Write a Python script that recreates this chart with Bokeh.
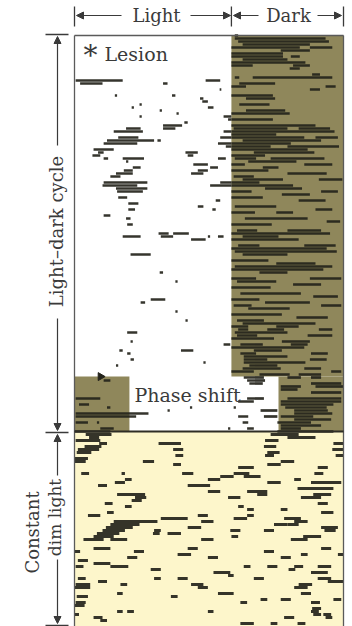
import math
from bokeh.plotting import figure
from bokeh.models import Range1d, Label, Arrow, NormalHead, ColumnDataSource
from bokeh.embed import file_html
from bokeh.resources import INLINE

# ---------------- schedule (hours / days) ----------------
DARK_ON, DAY_LEN = 14.0, 24.0
SHIFT_DAY = 113.7
SHIFT_DARK_ON, SHIFT_DARK_OFF = 18.2, 4.9
LD_END_DAY = 132
LAST_DAY = 197

# ---------------- activity bouts: (day, start h, end h) ----------------
ld_light_bouts = [
    (15, 0.1, 4.3), (16, 0.5, 2.5), (16, 7.9, 8.3), (15, 11.7, 13.0), (18, 12.95, 13.1),
    (20, 3.6, 3.8), (20, 8.7, 9.0), (21, 11.2, 11.5), (22, 11.4, 11.9), (23, 5.8, 6.0),
    (24, 5.1, 5.3), (24, 11.9, 12.4), (25, 7.6, 7.8), (26, 9.1, 9.3), (27, 5.8, 6.0),
    (27, 13.3, 14.0), (28, 13.7, 14.0), (29, 9.8, 10.1), (30, 7.9, 9.6), (31, 7.9, 9.0),
    (31, 4.6, 5.9), (32, 3.5, 6.1), (32, 13.3, 14.0), (34, 3.9, 5.7), (34, 13.0, 14.0),
    (35, 2.9, 7.1), (35, 7.4, 7.7), (36, 2.6, 5.6), (36, 12.8, 14.0), (37, 13.5, 14.0),
    (38, 1.7, 3.5), (39, 2.1, 2.6), (39, 9.9, 11.0), (40, 1.6, 2.3), (40, 10.1, 10.6),
    (41, 2.6, 3.0), (41, 4.3, 6.2), (41, 12.8, 13.5), (42, 4.6, 4.8), (43, 10.6, 11.9),
    (44, 5.2, 5.9), (44, 12.1, 12.8), (45, 4.4, 5.2), (45, 11.0, 11.9), (46, 3.7, 5.2),
    (46, 10.4, 11.5), (47, 3.2, 4.1), (49, 2.6, 6.5), (49, 13.0, 14.0), (50, 2.5, 5.6),
    (50, 12.1, 14.0), (51, 3.7, 6.5), (52, 3.8, 6.1), (54, 3.9, 4.7), (55, 12.6, 13.0),
    (56, 4.8, 5.7), (57, 11.0, 11.5), (58, 4.8, 5.4), (58, 12.3, 12.6), (60, 2.6, 3.2),
    (61, 4.6, 5.0), (63, 4.7, 5.2), (66, 7.5, 8.4), (66, 8.8, 10.2), (67, 4.3, 5.9),
    (67, 7.7, 8.8), (67, 11.9, 12.1), (67, 12.8, 13.3), (68, 10.4, 11.7), (73, 5.0, 6.8),
    (79, 7.6, 7.9), (82, 9.0, 9.2), (88, 6.8, 8.1), (89, 5.9, 6.3), (92, 9.0, 9.2),
    (95, 9.9, 10.1), (99, 4.7, 5.6), (102, 5.0, 5.2), (103, 13.3, 13.9), (105, 4.0, 4.3),
    (105, 9.5, 10.6), (106, 4.7, 5.0), (108, 5.0, 5.3), (109, 11.5, 11.7), (110, 3.7, 3.9),
]

ld_dark_bouts = [
    (0, 14.3, 14.6), (1, 14.3, 22.4), (2, 14.6, 22.7), (3, 15.0, 21.0), (4, 14.0, 20.1),
    (4, 21.0, 23.0), (5, 18.4, 21.0), (6, 14.0, 18.6), (7, 14.0, 18.6), (7, 19.3, 20.1),
    (8, 15.0, 19.0), (9, 14.0, 20.6), (10, 14.0, 15.9), (10, 19.5, 21.0), (11, 19.2, 20.1),
    (13, 21.2, 21.9), (14, 14.3, 14.7), (14, 15.9, 23.0), (16, 14.7, 17.9), (17, 14.0, 15.3),
    (17, 22.4, 23.3), (18, 21.0, 21.9), (20, 14.0, 17.7), (21, 15.3, 17.9), (23, 14.7, 17.4),
    (25, 15.3, 18.8), (26, 14.0, 19.2), (28, 14.0, 17.7), (30, 14.0, 21.5), (31, 14.2, 19.0),
    (31, 20.0, 22.8), (32, 14.0, 23.2), (33, 14.0, 18.0), (34, 14.0, 20.5), (34, 21.5, 23.5),
    (35, 15.0, 22.0), (36, 14.0, 19.3), (37, 14.0, 17.5), (37, 19.0, 23.6), (38, 14.0, 20.8),
    (39, 16.0, 21.4), (40, 14.0, 17.0), (41, 14.3, 16.2), (41, 17.5, 22.3), (42, 15.5, 19.8),
    (43, 14.0, 15.2), (43, 20.5, 23.0), (44, 16.8, 18.2), (45, 14.0, 17.3), (46, 19.0, 22.5),
    (47, 14.2, 16.0), (48, 15.0, 18.6), (48, 21.8, 23.9), (49, 14.0, 16.5), (50, 14.0, 19.5),
    (51, 17.0, 20.3), (52, 14.0, 15.8), (52, 22.0, 23.5), (53, 18.5, 21.0), (54, 14.0, 16.8),
    (55, 20.0, 22.4), (57, 14.3, 18.0), (58, 21.5, 23.0), (59, 14.0, 16.1), (59, 18.0, 19.5),
    (61, 15.2, 20.8), (62, 22.5, 23.7), (63, 14.0, 17.6), (65, 14.5, 16.3), (65, 19.0, 22.0),
    (66, 14.0, 22.8), (67, 15.0, 18.2), (68, 14.0, 20.0), (70, 14.6, 16.5), (70, 20.5, 23.3),
    (71, 14.0, 22.5), (72, 14.3, 23.4), (73, 15.0, 19.0), (75, 14.0, 17.3), (76, 18.0, 21.5),
    (77, 14.3, 23.0), (78, 14.0, 22.2), (79, 16.5, 19.0), (81, 14.0, 16.2), (81, 21.0, 23.8),
    (82, 14.5, 18.0), (83, 19.5, 22.0), (84, 14.0, 17.5), (86, 14.8, 20.2), (87, 21.3, 23.5),
    (88, 14.0, 16.5), (89, 17.0, 21.0), (90, 14.2, 15.8), (90, 22.0, 23.8), (91, 15.5, 19.2),
    (93, 14.0, 18.5), (94, 19.8, 22.6), (95, 14.5, 16.9), (96, 15.0, 21.5), (97, 14.0, 15.5),
    (97, 18.0, 20.0), (98, 14.6, 15.5), (98, 17.2, 18.7), (98, 21.8, 23.0), (99, 14.3, 19.0),
    (100, 14.5, 16.3), (100, 20.8, 23.0), (101, 14.0, 17.8), (102, 18.5, 21.0), (103, 14.8, 16.8),
    (103, 19.3, 20.8), (104, 14.0, 20.5), (105, 16.0, 18.5), (106, 14.8, 16.2), (106, 21.1, 22.6),
    (107, 15.1, 19.0), (108, 15.1, 17.2), (108, 21.0, 22.5), (109, 15.1, 20.6), (110, 15.6, 18.1),
    (111, 15.0, 18.4), (111, 20.5, 22.0), (112, 14.0, 16.0), (112, 22.9, 23.8), (113, 16.5, 19.2),
    (113, 20.0, 22.0),
]

shift_bouts = [
    (114, 15.1, 16.9), (115, 15.4, 17.0), (116, 15.6, 16.8), (121, 15.4, 16.9), (122, 14.6, 16.0),
    (125, 16.6, 18.1), (127, 14.6, 15.5), (127, 16.9, 18.1), (129, 15.0, 15.5), (131, 15.4, 16.0),
    (125, 8.3, 8.5), (124, 10.3, 10.5), (131, 13.7, 13.9), (124, 14.2, 14.4),
    (115, 2.6, 3.2), (121, 0.1, 2.3), (123, 0.4, 1.3), (124, 2.9, 3.2), (126, 0.1, 6.6),
    (127, 0.1, 5.5), (129, 0.1, 1.2), (129, 2.0, 2.2), (131, 2.3, 3.5), (132, 0.0, 3.2),
    (114, 19.0, 20.2), (114, 21.1, 22.0), (116, 21.1, 23.8), (117, 21.5, 24.0), (117, 18.4, 20.2),
    (118, 18.4, 19.9), (119, 21.1, 23.8), (121, 19.0, 23.8), (122, 18.4, 23.8), (123, 18.4, 23.1),
    (124, 18.8, 22.5), (125, 19.6, 22.6), (126, 19.6, 23.0), (127, 18.4, 21.3), (128, 19.6, 22.9),
    (129, 18.1, 21.1), (130, 18.4, 22.0), (131, 18.4, 20.2), (132, 18.1, 23.1),
]

dim_bouts = [
    (133, 1.0, 3.3), (133, 17.5, 20.0), (134, 19.0, 21.5),
    (134, 1.3, 2.2), (135, 0.1, 2.3), (136, 2.2, 2.9), (137, 0.9, 2.4), (138, 0.3, 2.2),
    (139, 0.2, 1.5), (141, 0.0, 1.2), (142, 0.0, 1.0), (146, 0.6, 1.3), (142, 6.1, 7.1),
    (136, 7.5, 9.5), (138, 8.8, 9.7), (140, 9.0, 9.7), (143, 8.8, 9.5), (135, 17.0, 18.2),
    (137, 16.9, 18.0), (139, 17.2, 18.3), (140, 17.0, 17.8), (142, 18.4, 19.6), (136, 23.1, 24.0),
    (138, 23.0, 24.0), (140, 23.3, 24.0), (143, 17.2, 18.4), (146, 9.6, 10.6), (144, 14.6, 16.0),
    (146, 14.2, 15.6), (144, 21.7, 22.6), (146, 21.4, 22.2), (146, 4.2, 4.5), (148, 4.5, 5.1),
    (149, 3.6, 4.5), (150, 2.1, 2.9), (153, 3.8, 6.3), (154, 5.4, 6.4), (155, 5.1, 6.0),
    (156, 2.7, 3.4), (157, 4.5, 5.1), (150, 10.1, 12.1), (148, 11.9, 13.0), (152, 11.9, 13.0),
    (147, 13.0, 14.2), (147, 15.1, 16.6), (149, 17.2, 18.4), (148, 19.6, 20.2), (151, 19.9, 23.1),
    (149, 21.1, 23.8), (152, 15.4, 17.2), (154, 13.7, 14.8), (153, 16.3, 17.2), (154, 20.2, 22.0),
    (153, 21.3, 22.9), (160, 1.2, 2.3), (159, 2.9, 3.5), (157, 14.6, 15.1), (158, 15.4, 16.0),
    (160, 15.4, 16.0), (158, 18.4, 19.0), (156, 21.7, 22.6), (159, 22.0, 23.1), (161, 7.7, 10.1),
    (162, 11.3, 12.4), (160, 11.0, 11.9), (161, 14.2, 15.4), (161, 18.7, 20.2), (163, 19.0, 20.0),
    (162, 19.6, 20.8), (162, 3.5, 7.4), (163, 3.2, 5.8), (164, 2.8, 5.2), (165, 2.5, 4.5),
    (166, 2.0, 4.0), (167, 1.7, 3.5), (168, 0.8, 2.6), (165, 7.1, 7.7), (166, 7.0, 7.6),
    (166, 8.3, 9.5), (164, 10.1, 11.3), (165, 13.9, 14.8), (167, 14.0, 14.6), (165, 16.9, 17.8),
    (163, 17.8, 19.0), (168, 19.3, 20.8), (167, 20.4, 22.0), (164, 22.0, 23.5), (165, 22.3, 23.3),
    (172, 0.0, 0.5), (171, 1.7, 3.2), (168, 3.2, 4.7), (172, 5.3, 6.2), (171, 10.1, 11.0),
    (168, 11.3, 12.4), (174, 4.7, 5.6), (173, 9.2, 10.4), (174, 11.9, 12.8), (172, 16.9, 17.8),
    (174, 18.4, 19.3), (173, 20.2, 20.8), (171, 22.0, 22.9), (173, 23.5, 24.0), (175, 0.3, 1.2),
    (177, 0.1, 0.8), (176, 1.7, 3.2), (177, 3.2, 4.8), (178, 6.8, 7.7), (181, 7.1, 7.7),
    (181, 9.2, 10.1), (179, 12.4, 13.9), (180, 13.7, 14.2), (177, 15.1, 15.7), (181, 16.0, 16.9),
    (177, 17.2, 18.1), (177, 19.6, 20.4), (179, 21.1, 22.6), (177, 21.7, 22.9), (182, 22.6, 24.0),
    (181, 21.7, 22.9), (178, 19.1, 19.7), (181, 0.3, 1.0), (183, 0.1, 1.4), (184, 0.0, 1.4),
    (182, 2.1, 2.9), (183, 4.1, 4.7), (183, 10.4, 11.5), (184, 11.0, 11.9), (186, 12.8, 14.2),
    (184, 19.6, 20.8), (186, 20.2, 21.1), (183, 20.0, 21.2), (187, 8.6, 9.2), (187, 0.2, 1.2),
    (189, 0.1, 1.0), (190, 0.0, 0.9), (192, 11.9, 12.4), (189, 14.8, 15.4), (188, 16.6, 17.2),
    (188, 18.4, 19.3), (189, 21.1, 21.9), (191, 21.2, 22.0), (192, 21.1, 21.8), (193, 21.3, 22.0),
    (195, 2.3, 2.9), (192, 4.7, 5.3), (196, 14.8, 16.0), (196, 17.5, 18.1), (193, 22.2, 22.9),
    (188, 23.1, 23.8), (194, 18.7, 19.6), (196, 19.9, 20.6), (194, 22.4, 23.0), (186, 3.8, 4.3),
    (192, 3.8, 4.3), (194, 1.7, 2.5), (193, 0.0, 0.4),
]

# ---------------- figure ----------------
W, H = 352, 626
FRAME_L, FRAME_R, FRAME_T = 74, 343, 35
PX_H = (FRAME_R - FRAME_L) / DAY_LEN      # px per hour
PX_D = 3.0                                  # px per day


def hx(px):
    return (px - FRAME_L) / PX_H


def dy(py):
    return (py - FRAME_T) / PX_D


p = figure(width=W, height=H, output_backend="svg", toolbar_location=None,
           x_range=Range1d(hx(0), hx(W)), y_range=Range1d(dy(H), dy(0)),
           x_axis_type=None, y_axis_type=None, min_border=0,
           outline_line_color=None, background_fill_color="white",
           border_fill_color="white")
p.grid.visible = False

OLIVE = "#8f875b"
CREAM = "#fdf6cb"
INK = "#24231b"
TXT = "#3a3a3a"
EDGE = "#5a5a5a"

# background lighting blocks
bg = ColumnDataSource(dict(
    left=[DARK_ON, SHIFT_DARK_ON, 0.0, 0.0],
    right=[DAY_LEN, DAY_LEN, SHIFT_DARK_OFF, DAY_LEN],
    top=[0.0, SHIFT_DAY, SHIFT_DAY, LD_END_DAY],
    bottom=[SHIFT_DAY, LD_END_DAY, LD_END_DAY, LAST_DAY],
    color=[OLIVE, OLIVE, OLIVE, CREAM],
))
p.quad(left="left", right="right", top="top", bottom="bottom", fill_color="color",
       line_color=None, source=bg)


def bout_source(bouts):
    return ColumnDataSource(dict(day=[b[0] for b in bouts],
                                 start=[b[1] for b in bouts],
                                 end=[b[2] for b in bouts]))


for bouts, h in ((ld_light_bouts, 0.85), (ld_dark_bouts, 0.85),
                 (shift_bouts, 0.9), (dim_bouts, 1.0)):
    p.hbar(y="day", left="start", right="end", height=h, fill_color=INK,
           fill_alpha=0.92, line_color=None, source=bout_source(bouts))

# frame borders
p.segment(x0=[0, DAY_LEN, 0], y0=[0, 0, 0], x1=[0, DAY_LEN, DAY_LEN],
          y1=[LAST_DAY, LAST_DAY, 0], line_color=EDGE, line_width=1.3)
p.segment(x0=[0], y0=[LD_END_DAY], x1=[DAY_LEN], y1=[LD_END_DAY],
          line_color="#2e2d25", line_width=2)

# phase shift marker
p.scatter(x=[hx(100)], y=[SHIFT_DAY], marker="triangle", angle=-math.pi / 2,
          size=8, fill_color=INK, line_color=INK)

# header brackets
HY = dy(15)
p.segment(x0=[0, DARK_ON, DAY_LEN], y0=[dy(6)] * 3, x1=[0, DARK_ON, DAY_LEN],
          y1=[dy(26)] * 3, line_color=TXT, line_width=1.3)


def arrow(x0, y0, x1, y1):
    p.add_layout(Arrow(end=NormalHead(size=7, fill_color=TXT, line_color=TXT),
                       x_start=x0, y_start=y0, x_end=x1, y_end=y1,
                       line_color=TXT, line_width=1.2))


arrow(hx(121), HY, hx(76), HY)
arrow(hx(190), HY, hx(230), HY)
arrow(hx(258), HY, hx(233), HY)
arrow(hx(317), HY, hx(341), HY)

FONT = "DejaVu Serif"


def label(txt, x, y, size, angle=0.0, align="center"):
    p.add_layout(Label(x=x, y=y, text=txt, text_font=FONT, text_font_size=size,
                       text_color=TXT, text_align=align, text_baseline="middle",
                       angle=angle))


label("Light", hx(156), HY, "18px")
label("Dark", hx(288), HY, "18px")
label("*", hx(83), dy(55), "28px", align="left")
label("Lesion", hx(104), dy(53), "19px", align="left")
label("Phase shift", hx(187), dy(394), "19px")

# left-side brackets
LX = hx(57)
p.segment(x0=[hx(45)] * 3, y0=[dy(34), dy(432), dy(625)], x1=[hx(68)] * 3,
          y1=[dy(34), dy(432), dy(625)], line_color=TXT, line_width=1.3)
arrow(LX, dy(145), LX, dy(36))
arrow(LX, dy(318), LX, dy(430))
arrow(LX, dy(475), LX, dy(434))
arrow(LX, dy(559), LX, dy(623))
label("Light\u2013dark cycle", hx(56), dy(231), "18px", angle=math.pi / 2)
label("Constant", hx(32), dy(532), "18px", angle=math.pi / 2)
label("dim light", hx(54), dy(517), "17px", angle=math.pi / 2)

open("out.html", "w").write(file_html(p, INLINE))
